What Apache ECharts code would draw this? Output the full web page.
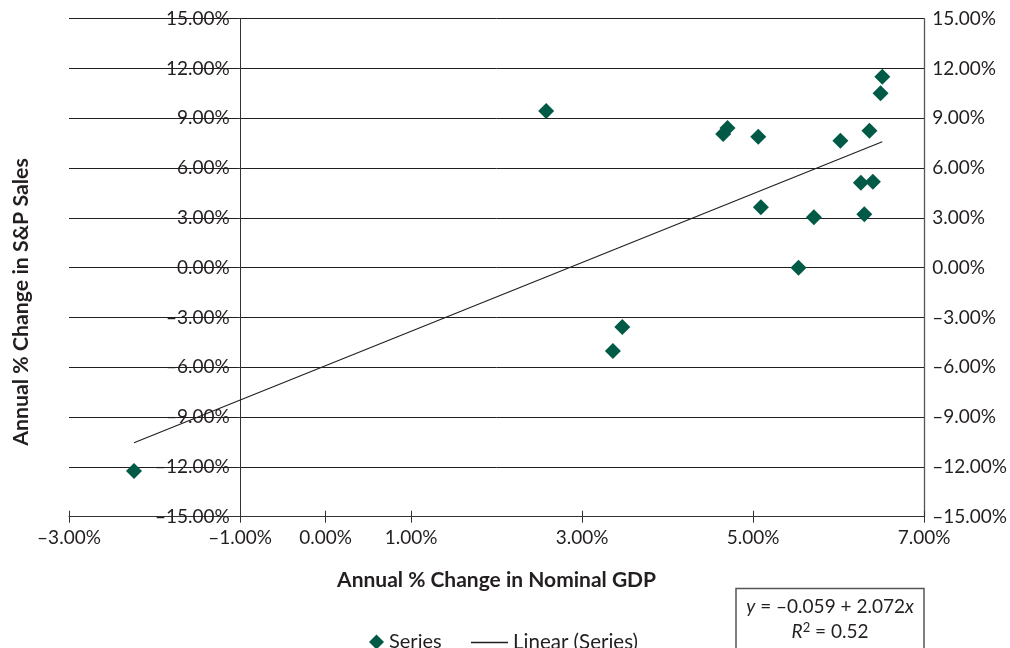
<!DOCTYPE html>
<html><head><meta charset="utf-8">
<script src="https://cdn.jsdelivr.net/npm/echarts@6/dist/echarts.min.js"></script>
<style>html,body{margin:0;padding:0;background:#fff}#c{width:1010px;height:648px}</style>
</head><body><div id="c"></div>
<script>
// Data (annual % change)
const gdpGrowth = [2.58, 4.65, 4.70, 5.06, 6.02, 6.36, 6.51, 6.49, 6.26, 6.40, 5.09, 5.71, 6.30, 5.53, 3.36, 3.47, -2.24];
const spSalesGrowth = [9.44, 8.05, 8.42, 7.89, 7.65, 8.25, 11.51, 10.51, 5.12, 5.18, 3.64, 3.04, 3.22, 0.00, -5.02, -3.57, -12.25];
const xTickValues = [-3, -1, 0, 1, 3, 5, 7];
const yTickValues = [-15, -12, -9, -6, -3, 0, 3, 6, 9, 12, 15];
const trendIntercept = -0.059; // fraction
const trendSlope = 2.072;

const FONT = 'Lato';
const TXT = '#231f20';
const fmt = v => (v < 0 ? '\u2013' + Math.abs(v).toFixed(2) : v.toFixed(2)) + '%';

const scatterData = gdpGrowth.map((x, i) => [x, spSalesGrowth[i]]);
const xMin = Math.min(...gdpGrowth), xMax = Math.max(...gdpGrowth);
const trend = x => 100 * (trendIntercept + trendSlope * x / 100);
const trendData = [[xMin, trend(xMin)], [xMax, trend(xMax)]];

const chart = echarts.init(document.getElementById('c'), null, {renderer: 'canvas'});
chart.setOption({
  animation: false,
  textStyle: {fontFamily: FONT, color: TXT},
  grid: {left: 69, right: 85.7, top: 18.7, bottom: 131.3, containLabel: false},
  xAxis: [{
    type: 'value', min: -3, max: 7, interval: 1,
    axisLine: {show: true, onZero: false, lineStyle: {color: '#333', width: 1}},
    axisTick: {show: true, inside: false, length: 6, customValues: xTickValues, lineStyle: {color: '#333'}},
    axisLabel: {show: true, customValues: xTickValues, formatter: fmt, fontFamily: FONT, fontSize: 19, color: TXT, margin: 12},
    splitLine: {show: false},
    name: 'Annual % Change in Nominal GDP', nameLocation: 'middle', nameGap: 53,
    nameTextStyle: {fontFamily: FONT, fontWeight: 'bold', fontSize: 21, color: TXT}
  }, {
    type: 'value', min: -3, max: 7, interval: 1, position: 'bottom',
    axisLine: {show: false, onZero: false},
    axisTick: {show: true, inside: true, length: 6, customValues: xTickValues, lineStyle: {color: '#333'}},
    axisLabel: {show: false}, splitLine: {show: false}
  }],
  yAxis: [{
    type: 'value', min: -15, max: 15, interval: 3, position: 'left', offset: -171.7,
    axisLine: {show: true, onZero: false, lineStyle: {color: '#333', width: 1}},
    axisTick: {show: true, length: 3, lineStyle: {color: '#333'}},
    axisLabel: {formatter: fmt, fontFamily: FONT, fontSize: 19, color: TXT, margin: 11},
    splitLine: {show: true, lineStyle: {color: '#231f20', width: 1}}
  }, {
    type: 'value', min: -15, max: 15, interval: 3, position: 'right',
    axisLine: {show: true, onZero: false, lineStyle: {color: '#555', width: 1.3}},
    axisTick: {show: false},
    axisLabel: {formatter: fmt, fontFamily: FONT, fontSize: 19, color: TXT, margin: 8},
    splitLine: {show: false}
  }],
  legend: [{
    data: [{name: 'Series', icon: 'diamond'}],
    left: 364, top: 627, itemWidth: 15, itemHeight: 15, itemGap: 6,
    textStyle: {fontFamily: FONT, fontSize: 20, color: TXT}
  }, {
    data: [{name: 'Linear (Series)', icon: 'rect', itemStyle: {color: '#231f20'}}],
    left: 466, top: 627, itemWidth: 37, itemHeight: 1.3, itemGap: 6,
    textStyle: {fontFamily: FONT, fontSize: 20.5, color: TXT}
  }],
  graphic: [{
    type: 'text', x: 21, y: 302, rotation: Math.PI / 2,
    style: {text: 'Annual % Change in S&P Sales', fontFamily: FONT, fontWeight: 'bold', fontSize: 21.3, fill: TXT, align: 'center', verticalAlign: 'middle'}
  }, {
    type: 'rect', shape: {x: 736, y: 588.5, width: 188, height: 70},
    style: {fill: '#fff', stroke: '#555', lineWidth: 1.5}
  }, {
    type: 'text', x: 830, y: 607,
    style: {
      text: '{i|y} = \u20130.059 + 2.072{i|x}', align: 'center', verticalAlign: 'middle',
      fontFamily: FONT, fontSize: 19, fill: TXT,
      rich: {i: {fontStyle: 'italic', fontFamily: FONT, fontSize: 19, fill: TXT}}
    }
  }, {
    type: 'text', x: 830, y: 632,
    style: {
      text: '{i|R}{s|2} = 0.52', align: 'center', verticalAlign: 'middle',
      fontFamily: FONT, fontSize: 19, fill: TXT,
      rich: {i: {fontStyle: 'italic', fontFamily: FONT, fontSize: 19, fill: TXT},
             s: {fontFamily: FONT, fontSize: 13, fill: TXT, verticalAlign: 'top', padding: [0, 0, 8, 0]}}
    }
  }],
  series: [{
    name: 'Linear (Series)', type: 'line', data: trendData, xAxisIndex: 0, yAxisIndex: 0,
    symbol: 'none', showSymbol: false, lineStyle: {color: '#231f20', width: 1.2}, itemStyle: {color: '#231f20'}, z: 3
  }, {
    name: 'Series', type: 'scatter', data: scatterData, xAxisIndex: 0, yAxisIndex: 0,
    symbol: 'diamond', symbolSize: [16, 16], itemStyle: {color: '#005a45', opacity: 1}, z: 4
  }]
});
</script></body></html>
